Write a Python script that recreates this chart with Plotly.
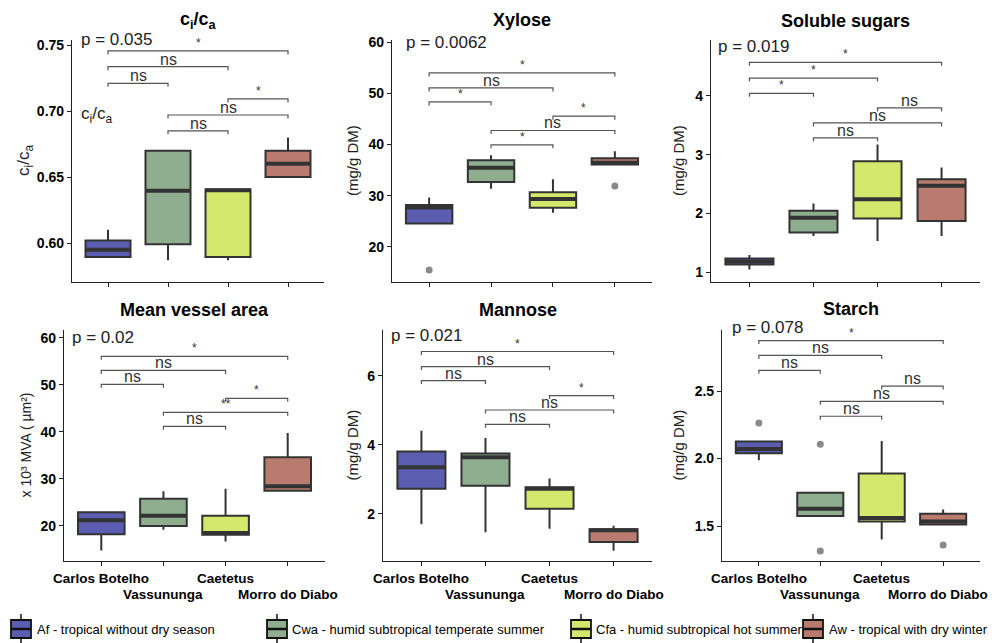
import plotly.graph_objects as go

# ---------------- data ----------------
sites = ["Carlos Botelho", "Vassununga", "Caetetus", "Morro do Diabo"]
climates = ["Af - tropical without dry season",
            "Cwa - humid subtropical temperate summer",
            "Cfa - humid subtropical hot summer",
            "Aw - tropical with dry winter"]
fills = ["#5B5EB0", "#8FAE8F", "#D4E96B", "#B87B6E"]

pairs = [(1, 4), (1, 3), (1, 2), (3, 4), (2, 4), (2, 3)]

# ci/ca
cica_low = [0.5895, 0.587, 0.587, 0.650]
cica_q1 = [0.5895, 0.599, 0.5895, 0.650]
cica_med = [0.595, 0.6396, 0.6400, 0.660]
cica_q3 = [0.602, 0.670, 0.6405, 0.670]
cica_high = [0.610, 0.670, 0.6405, 0.680]
cica_out_x = []
cica_out_y = []
cica_br_y = [0.7455, 0.7336, 0.721, 0.7092, 0.697, 0.685]
cica_br_lab = ["*", "ns", "ns", "*", "ns", "ns"]

# Xylose
xyl_low = [24.6, 31.35, 26.66, 36.1]
xyl_q1 = [24.6, 32.66, 27.64, 36.1]
xyl_med = [27.7, 35.45, 29.34, 36.43]
xyl_q3 = [28.2, 36.9, 30.7, 37.29]
xyl_high = [29.67, 37.9, 33.2, 38.7]
xyl_out_x = [1, 4]
xyl_out_y = [15.5, 31.9]
xyl_br_y = [53.96, 51.04, 48.31, 45.52, 42.73, 39.93]
xyl_br_lab = ["*", "ns", "*", "*", "ns", "*"]

# Soluble sugars
sol_low = [1.045, 1.612, 1.527, 1.612]
sol_q1 = [1.13, 1.675, 1.913, 1.868]
sol_med = [1.18, 1.924, 2.242, 2.469]
sol_q3 = [1.2325, 2.044, 2.889, 2.582]
sol_high = [1.29, 2.168, 3.172, 2.78]
sol_out_x = []
sol_out_y = []
sol_br_y = [4.573, 4.306, 4.045, 3.796, 3.541, 3.285]
sol_br_lab = ["*", "*", "*", "ns", "ns", "ns"]

# Mean vessel area
mva_low = [14.8, 19.2, 16.7, 27.3]
mva_q1 = [18.23, 20.0, 18.16, 27.52]
mva_med = [21.2, 22.2, 18.5, 28.44]
mva_q3 = [22.9, 25.82, 22.2, 34.6]
mva_high = [23.1, 27.4, 27.9, 39.79]
mva_out_x = []
mva_out_y = []
mva_br_y = [56.1, 53.1, 50.14, 47.16, 44.18, 41.2]
mva_br_lab = ["*", "ns", "ns", "*", "**", "ns"]

# Mannose
man_low = [1.70, 1.47, 1.57, 0.935]
man_q1 = [2.73, 2.82, 2.15, 1.19]
man_med = [3.35, 3.64, 2.73, 1.53]
man_q3 = [3.81, 3.75, 2.775, 1.555]
man_high = [4.41, 4.2, 3.03, 1.66]
man_out_x = []
man_out_y = []
man_br_y = [6.707, 6.271, 5.864, 5.429, 5.012, 4.596]
man_br_lab = ["*", "ns", "ns", "*", "ns", "ns"]

# Starch
sta_low = [1.988, 1.574, 1.40, 1.512]
sta_q1 = [2.039, 1.574, 1.534, 1.512]
sta_med = [2.071, 1.628, 1.559, 1.534]
sta_q3 = [2.126, 1.746, 1.889, 1.591]
sta_high = [2.126, 1.746, 2.13, 1.623]
sta_out_x = [1, 2, 2, 4]
sta_out_y = [2.264, 2.106, 1.315, 1.36]
sta_br_y = [2.874, 2.764, 2.653, 2.537, 2.424, 2.313]
sta_br_lab = ["*", "ns", "ns", "ns", "ns", "ns"]

panels = [
    dict(title="<b>c<sub>i</sub>/c<sub>a</sub></b>", ytitle="c<sub>i</sub>/c<sub>a</sub>", p="p = 0.035",
         low=cica_low, q1=cica_q1, med=cica_med, q3=cica_q3, high=cica_high,
         ox=cica_out_x, oy=cica_out_y, bry=cica_br_y, brl=cica_br_lab,
         ticks=[0.60, 0.65, 0.70, 0.75], fmt=".2f", rng=[0.5705, 0.7538]),
    dict(title="<b>Xylose</b>", ytitle="(mg/g DM)", p="p = 0.0062",
         low=xyl_low, q1=xyl_q1, med=xyl_med, q3=xyl_q3, high=xyl_high,
         ox=xyl_out_x, oy=xyl_out_y, bry=xyl_br_y, brl=xyl_br_lab,
         ticks=[20, 30, 40, 50, 60], fmt="d", rng=[13.16, 60.39]),
    dict(title="<b>Soluble sugars</b>", ytitle="(mg/g DM)", p="p = 0.019",
         low=sol_low, q1=sol_q1, med=sol_med, q3=sol_q3, high=sol_high,
         ox=sol_out_x, oy=sol_out_y, bry=sol_br_y, brl=sol_br_lab,
         ticks=[1, 2, 3, 4], fmt="d", rng=[0.83, 4.954]),
    dict(title="<b>Mean vessel area</b>", ytitle="x 10³ MVA ( µm²)", p="p = 0.02",
         low=mva_low, q1=mva_q1, med=mva_med, q3=mva_q3, high=mva_high,
         ox=mva_out_x, oy=mva_out_y, bry=mva_br_y, brl=mva_br_lab,
         ticks=[20, 30, 40, 50, 60], fmt="d", rng=[12.55, 61.7]),
    dict(title="<b>Mannose</b>", ytitle="(mg/g DM)", p="p = 0.021",
         low=man_low, q1=man_q1, med=man_med, q3=man_q3, high=man_high,
         ox=man_out_x, oy=man_out_y, bry=man_br_y, brl=man_br_lab,
         ticks=[2, 4, 6], fmt="d", rng=[0.637, 7.33]),
    dict(title="<b>Starch</b>", ytitle="(mg/g DM)", p="p = 0.078",
         low=sta_low, q1=sta_q1, med=sta_med, q3=sta_q3, high=sta_high,
         ox=sta_out_x, oy=sta_out_y, bry=sta_br_y, brl=sta_br_lab,
         ticks=[1.5, 2.0, 2.5], fmt=".1f", rng=[1.241, 2.952]),
]

# ---------------- layout geometry (pixels) ----------------
W, H = 992, 643
xdom_px = [(72, 324), (392, 652), (711, 980), (64, 325), (383, 652), (722, 980)]
ydom_px = [(40, 282)] * 3 + [(330, 561)] * 3
ytitle_x_px = [25, 352, 678, 25, 352, 678]
ytitle_size = [17, 15, 15, 14, 15, 15]
p_dx = [7, 12, 5, 6, 6, 8]
p_dy = [0, -2.5, -6.5, -7.5, -5.5, 3]
title_dy = [19, 20, 19, 20, 20, 21]
last_label_dx = [0, 0, 0, 0, 0, -5]

# legend geometry (pixels): icon left/right, text start
leg_icon_px = [(11, 31), (267, 287), (571, 591), (803, 823)]
leg_text_px = [35, 290, 594, 827]
leg_body = (620, 638)
leg_whisk = (614, 643)

FONT = "Liberation Sans, Arial, sans-serif"
DARK = "#333333"


def px_x(v):
    return v / W


def px_y(v):
    return 1 - v / H


fig = go.Figure()
layout = dict(width=W, height=H, margin=dict(l=0, r=0, t=0, b=0, autoexpand=False),
              plot_bgcolor="white", paper_bgcolor="white",
              font=dict(family=FONT, color="black"), showlegend=False)
annotations = []
shapes = []
box_w = 0.75

for n, pn in enumerate(panels):
    suf = "" if n == 0 else str(n + 1)
    xr, yr = "x" + suf, "y" + suf
    x0, x1 = xdom_px[n]
    yt, yb = ydom_px[n]
    plot_h = yb - yt
    layout["xaxis" + suf] = dict(
        domain=[px_x(x0), px_x(x1)], range=[0.4, 4.6], anchor=yr, automargin=False,
        showline=True, linecolor="#222", linewidth=1.2, ticks="outside",
        ticklen=4, tickcolor="#222", tickvals=[1, 2, 3, 4],
        showticklabels=False, showgrid=False, zeroline=False, fixedrange=True)
    layout["yaxis" + suf] = dict(
        domain=[px_y(yb), px_y(yt)], range=pn["rng"], anchor=xr, automargin=False,
        showline=True, linecolor="#222", linewidth=1.2, ticks="outside",
        ticklen=4, tickcolor="#222", tickvals=pn["ticks"], tickformat=pn["fmt"],
        tickfont=dict(family=FONT, size=14, color="black", weight="bold"),
        showgrid=False, zeroline=False, fixedrange=True)

    # boxes
    for k in range(4):
        fig.add_trace(go.Box(
            x=[k + 1], q1=[pn["q1"][k]], median=[pn["med"][k]], q3=[pn["q3"][k]],
            lowerfence=[pn["low"][k]], upperfence=[pn["high"][k]],
            width=box_w, fillcolor=fills[k], line=dict(color=DARK, width=2),
            whiskerwidth=0, boxpoints=False, name=climates[k],
            legendgroup=climates[k], showlegend=False,
            xaxis=xr, yaxis=yr, hoverinfo="skip"))
        shapes.append(dict(type="line", xref=xr, yref=yr,
                           x0=k + 1 - box_w / 2, x1=k + 1 + box_w / 2,
                           y0=pn["med"][k], y1=pn["med"][k],
                           line=dict(color=DARK, width=4)))
    # outliers
    if pn["ox"]:
        fig.add_trace(go.Scatter(x=pn["ox"], y=pn["oy"], mode="markers",
                                 marker=dict(color="#8A8A8A", size=7),
                                 showlegend=False, xaxis=xr, yaxis=yr, hoverinfo="skip"))
    # brackets
    d = (pn["rng"][1] - pn["rng"][0]) * 3.5 / plot_h
    for (a, b), yv, lab in zip(pairs, pn["bry"], pn["brl"]):
        fig.add_trace(go.Scatter(x=[a, a, b, b], y=[yv - d, yv, yv, yv - d], mode="lines",
                                 line=dict(color="#555555", width=1.2),
                                 showlegend=False, xaxis=xr, yaxis=yr, hoverinfo="skip"))
        if lab == "ns":
            annotations.append(dict(x=(a + b) / 2, y=yv, xref=xr, yref=yr, text=lab,
                                    showarrow=False, yanchor="bottom", yshift=-3,
                                    font=dict(family=FONT, size=16, color=DARK)))
        else:
            annotations.append(dict(x=(a + b) / 2, y=yv, xref=xr, yref=yr, text=lab,
                                    showarrow=False, yanchor="bottom", yshift=-1,
                                    font=dict(family=FONT, size=12, color=DARK)))
    # p-value
    annotations.append(dict(x=0, y=1, xref=xr + " domain", yref=yr + " domain",
                            xanchor="left", yanchor="middle", xshift=p_dx[n], yshift=p_dy[n],
                            text=pn["p"], showarrow=False,
                            font=dict(family=FONT, size=17, color="#222")))
    # panel title
    annotations.append(dict(x=0.5, y=1, xref=xr + " domain", yref=yr + " domain",
                            xanchor="center", yanchor="middle", yshift=title_dy[n],
                            text=pn["title"], showarrow=False,
                            font=dict(family=FONT, size=18, color="black")))
    # y title
    annotations.append(dict(x=px_x(ytitle_x_px[n]), y=px_y((yt + yb) / 2), xref="paper", yref="paper",
                            xanchor="center", yanchor="middle", textangle=-90,
                            text=pn["ytitle"], showarrow=False,
                            font=dict(family=FONT, size=ytitle_size[n], color="#222")))
    # x labels on bottom row
    if n >= 3:
        for k, s in enumerate(sites):
            annotations.append(dict(x=k + 1, y=0, xref=xr, yref=yr + " domain",
                                    xanchor="center", yanchor="top",
                                    yshift=-8 if k % 2 == 0 else -24,
                                    xshift=last_label_dx[n] if k == 3 else 0,
                                    text="<b>" + s + "</b>", showarrow=False,
                                    font=dict(family=FONT, size=13.5, color="black")))

# stray in-panel label of the first panel
annotations.append(dict(x=0, y=0.69, xref="x domain", yref="y domain", xanchor="left",
                        yanchor="middle", xshift=7, text="c<sub>i</sub>/c<sub>a</sub>",
                        showarrow=False, font=dict(family=FONT, size=17, color="#222")))

# legend (drawn as key glyphs + labels)
for k in range(4):
    lx0, lx1 = leg_icon_px[k]
    cx = (lx0 + lx1) / 2
    shapes.append(dict(type="line", xref="paper", yref="paper", x0=px_x(cx), x1=px_x(cx),
                       y0=px_y(leg_whisk[0]), y1=px_y(leg_whisk[1]),
                       line=dict(color="#111", width=1.5)))
    shapes.append(dict(type="rect", xref="paper", yref="paper", x0=px_x(lx0), x1=px_x(lx1),
                       y0=px_y(leg_body[1]), y1=px_y(leg_body[0]), fillcolor=fills[k],
                       line=dict(color="#111", width=1.8)))
    mid = (leg_body[0] + leg_body[1]) / 2
    shapes.append(dict(type="line", xref="paper", yref="paper", x0=px_x(lx0), x1=px_x(lx1),
                       y0=px_y(mid), y1=px_y(mid), line=dict(color="#111", width=2.5)))
    annotations.append(dict(x=px_x(leg_text_px[k]), y=px_y(mid), xref="paper", yref="paper",
                            xanchor="left", yanchor="middle", text=climates[k], showarrow=False,
                            font=dict(family=FONT, size=13, color="black")))

layout["annotations"] = annotations
layout["shapes"] = shapes
fig.update_layout(**layout)
fig.write_html("out.html", config={"displayModeBar": False},
               post_script="document.body.style.margin='0px';document.body.style.padding='0px';")
